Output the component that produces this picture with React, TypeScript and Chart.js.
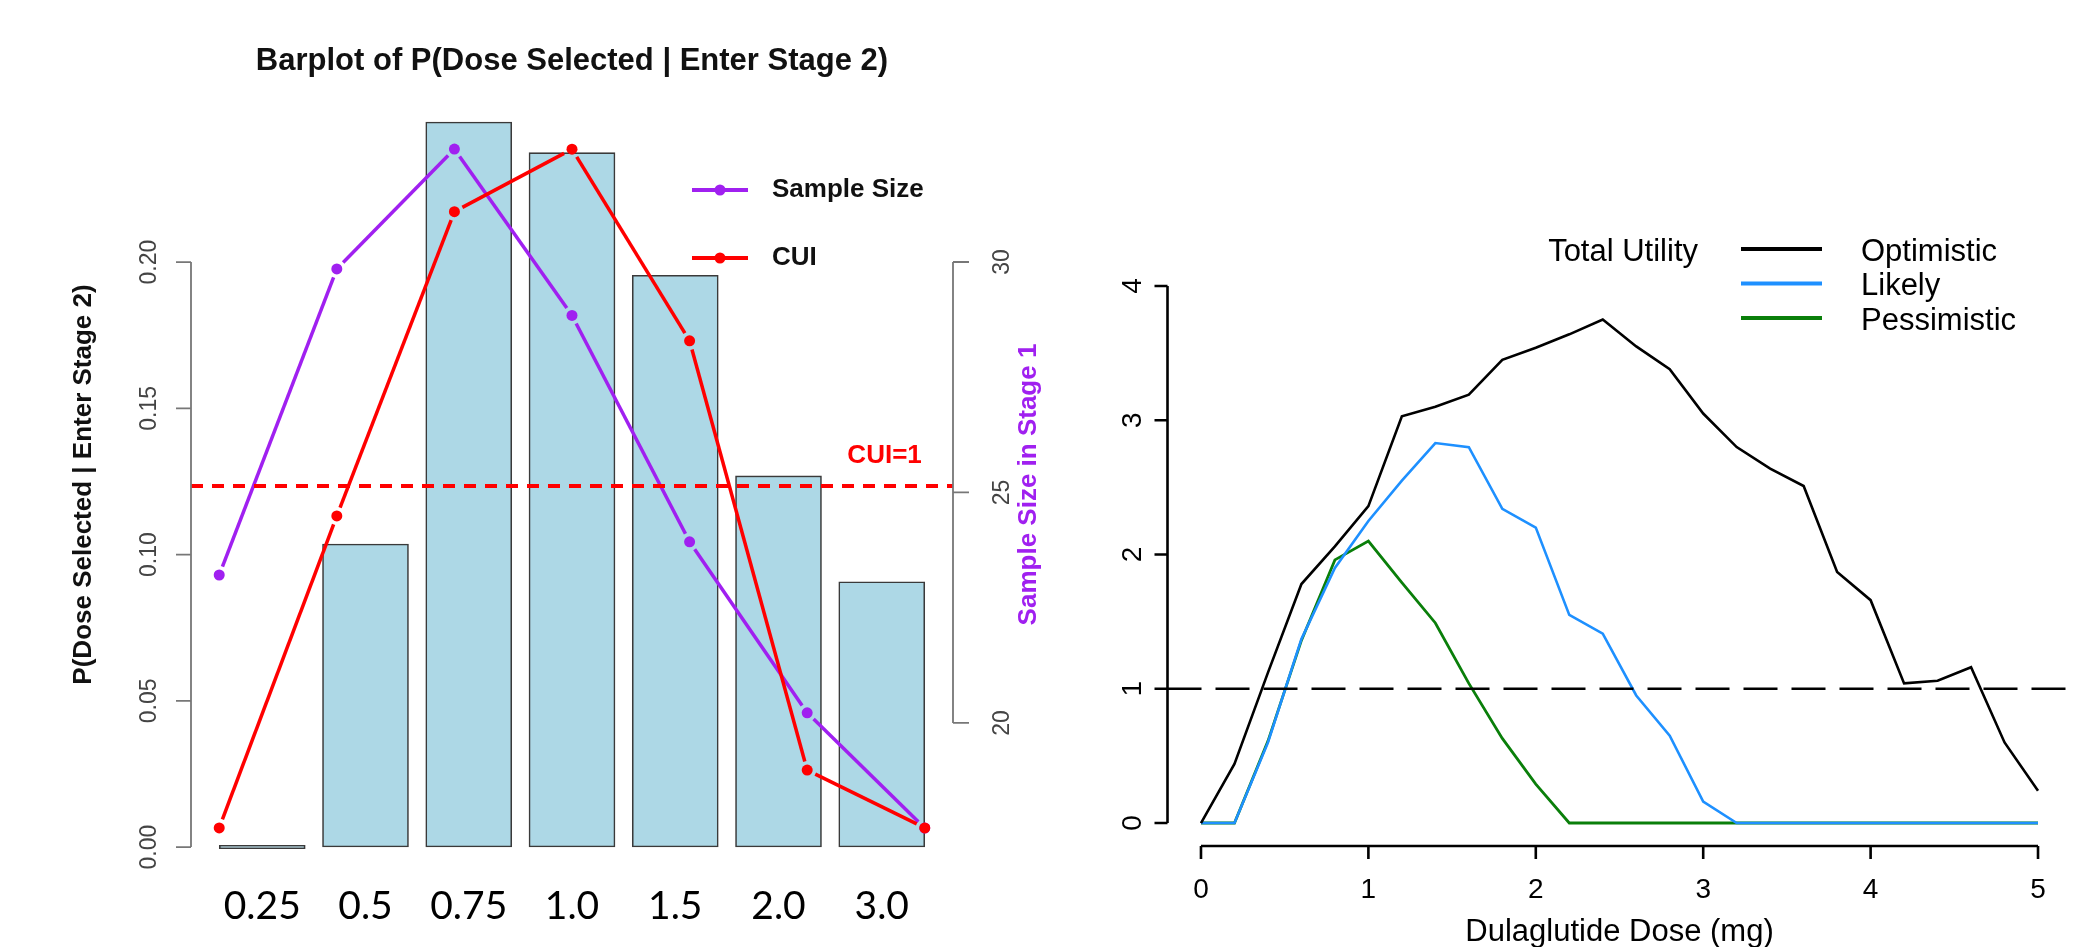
import React, { useEffect, useRef } from 'react';
import { Chart, registerables } from 'chart.js';

Chart.register(...registerables);

// ---------- Left chart data ----------
const doseLabels = ['0.25', '0.5', '0.75', '1.0', '1.5', '2.0', '3.0'];
const pSelected = [0, 0.1036, 0.2479, 0.2374, 0.1955, 0.1269, 0.0907];
const sampleSize = [23.21, 29.85, 32.45, 28.84, 23.93, 20.22, 17.72];
const cuiValues = [0.053, 0.917, 1.76, 1.933, 1.402, 0.213, 0.053];
const probTickValues = [0, 0.05, 0.1, 0.15, 0.2];
const probTickLabels = ['0.00', '0.05', '0.10', '0.15', '0.20'];
const sampleTickValues = [20, 25, 30];
const sampleTickLabels = ['20', '25', '30'];
const cuiThreshold = 1;

// ---------- Right chart data ----------
const utilDose = [0, 0.2, 0.4, 0.6, 0.8, 1.0, 1.2, 1.4, 1.6, 1.8, 2.0, 2.2, 2.4, 2.6, 2.8, 3.0, 3.2, 3.4, 3.6, 3.8, 4.0, 4.2, 4.4, 4.6, 4.8, 5.0];
const optimistic = [0, 0.44, 1.12, 1.78, 2.06, 2.36, 3.03, 3.1, 3.19, 3.45, 3.54, 3.64, 3.75, 3.55, 3.38, 3.05, 2.8, 2.64, 2.51, 1.87, 1.66, 1.04, 1.06, 1.16, 0.6, 0.24];
const likely = [0, 0, 0.6, 1.37, 1.9, 2.25, 2.55, 2.83, 2.8, 2.34, 2.2, 1.55, 1.41, 0.95, 0.65, 0.16, 0, 0, 0, 0, 0, 0, 0, 0, 0, 0];
const pessimistic = [0, 0, 0.61, 1.36, 1.96, 2.1, 1.79, 1.49, 1.04, 0.63, 0.29, 0, 0, 0, 0, 0, 0, 0, 0, 0, 0, 0, 0, 0, 0, 0];
const utilTicksY = [0, 1, 2, 3, 4];
const utilTicksX = [0, 1, 2, 3, 4, 5];
const utilThreshold = 1;

const PURPLE = '#A020F0';
const RED = '#FF0000';
const FONT = '"Liberation Sans", Arial, sans-serif';

function vText(ctx: CanvasRenderingContext2D, text: string, x: number, y: number, font: string, color: string) {
  ctx.save();
  ctx.translate(x, y);
  ctx.rotate(-Math.PI / 2);
  ctx.font = font;
  ctx.fillStyle = color;
  ctx.textAlign = 'center';
  ctx.textBaseline = 'middle';
  ctx.fillText(text, 0, 0);
  ctx.restore();
}

// R "type = b" style: segments between points with small gaps around each point
const gappedLines = {
  id: 'gappedLines',
  afterDatasetDraw(chart: any, args: any) {
    const ds = chart.data.datasets[args.index];
    if (!ds.gapLine) return;
    const pts = args.meta.data;
    const ctx = chart.ctx;
    const gap = 9;
    ctx.save();
    ctx.strokeStyle = ds.borderColor;
    ctx.lineWidth = ds.borderWidth;
    ctx.lineCap = 'butt';
    for (let i = 1; i < pts.length; i++) {
      const a = pts[i - 1];
      const b = pts[i];
      const dx = b.x - a.x;
      const dy = b.y - a.y;
      const len = Math.hypot(dx, dy);
      if (len <= 2 * gap) continue;
      const ux = dx / len;
      const uy = dy / len;
      ctx.beginPath();
      ctx.moveTo(a.x + ux * gap, a.y + uy * gap);
      ctx.lineTo(b.x - ux * gap, b.y - uy * gap);
      ctx.stroke();
    }
    ctx.restore();
  },
};

const leftDecor = {
  id: 'leftDecor',
  afterDatasetsDraw(chart: any) {
    const { ctx, chartArea } = chart;
    const { left, right, top, bottom } = chartArea;
    const xs = chart.scales.x;
    const x2 = chart.scales.x2;
    const ys = chart.scales.y;
    const yss = chart.scales.ySS;
    const yc = chart.scales.yCUI;
    ctx.save();

    // CUI = 1 reference line
    const yRef = yc.getPixelForValue(cuiThreshold);
    ctx.strokeStyle = RED;
    ctx.lineWidth = 4;
    ctx.setLineDash([12, 9]);
    ctx.beginPath();
    ctx.moveTo(left, yRef);
    ctx.lineTo(right, yRef);
    ctx.stroke();
    ctx.setLineDash([]);
    ctx.font = 'bold 26px ' + FONT;
    ctx.fillStyle = RED;
    ctx.textAlign = 'right';
    ctx.textBaseline = 'middle';
    ctx.fillText('CUI=1', x2.getPixelForValue(6) - 3, yRef - 30);

    // Title
    ctx.font = 'bold 31px ' + FONT;
    ctx.fillStyle = '#111';
    ctx.textAlign = 'center';
    ctx.fillText('Barplot of P(Dose Selected | Enter Stage 2)', (left + right) / 2, 61);

    // Left axis
    ctx.strokeStyle = '#777';
    ctx.lineWidth = 1.8;
    ctx.beginPath();
    ctx.moveTo(left, ys.getPixelForValue(probTickValues[0]));
    ctx.lineTo(left, ys.getPixelForValue(probTickValues[probTickValues.length - 1]));
    probTickValues.forEach((v) => {
      const p = ys.getPixelForValue(v);
      ctx.moveTo(left, p);
      ctx.lineTo(left - 15, p);
    });
    ctx.stroke();
    probTickValues.forEach((v, i) => {
      vText(ctx, probTickLabels[i], left - 41, ys.getPixelForValue(v), '23px ' + FONT, '#444');
    });
    vText(ctx, 'P(Dose Selected | Enter Stage 2)', left - 107, (top + bottom) / 2, 'bold 26px ' + FONT, '#111');

    // Right axis
    ctx.beginPath();
    ctx.moveTo(right, yss.getPixelForValue(sampleTickValues[0]));
    ctx.lineTo(right, yss.getPixelForValue(sampleTickValues[sampleTickValues.length - 1]));
    sampleTickValues.forEach((v) => {
      const p = yss.getPixelForValue(v);
      ctx.moveTo(right, p);
      ctx.lineTo(right + 16, p);
    });
    ctx.stroke();
    sampleTickValues.forEach((v, i) => {
      vText(ctx, sampleTickLabels[i], right + 50, yss.getPixelForValue(v), '23px ' + FONT, '#444');
    });
    vText(ctx, 'Sample Size in Stage 1', right + 76, (top + bottom) / 2, 'bold 26px ' + FONT, PURPLE);

    // Category labels
    ctx.font = '39px Lato, "Open Sans", sans-serif';
    ctx.fillStyle = '#000';
    ctx.textAlign = 'center';
    ctx.textBaseline = 'middle';
    doseLabels.forEach((lab, i) => {
      ctx.fillText(lab, xs.getPixelForValue(i), bottom + 30);
    });

    // Legend
    const items = chart.data.datasets.filter((d: any) => d.type === 'line');
    items.forEach((d: any, i: number) => {
      const yy = 190 + i * 68;
      ctx.strokeStyle = d.borderColor;
      ctx.lineWidth = 4;
      ctx.beginPath();
      ctx.moveTo(692, yy);
      ctx.lineTo(748, yy);
      ctx.stroke();
      ctx.fillStyle = d.borderColor;
      ctx.beginPath();
      ctx.arc(720, yy, 5.5, 0, Math.PI * 2);
      ctx.fill();
      ctx.font = 'bold 26px ' + FONT;
      ctx.fillStyle = '#111';
      ctx.textAlign = 'left';
      ctx.fillText(d.label, 772, yy);
    });
    ctx.restore();
  },
};

const rightDecor = {
  id: 'rightDecor',
  afterDatasetsDraw(chart: any) {
    const { ctx, chartArea } = chart;
    const { left, right, bottom } = chartArea;
    const xs = chart.scales.x;
    const ys = chart.scales.y;
    ctx.save();

    // reference line
    const yRef = ys.getPixelForValue(utilThreshold);
    ctx.strokeStyle = '#000';
    ctx.lineWidth = 2.6;
    ctx.setLineDash([34, 14]);
    ctx.beginPath();
    ctx.moveTo(left, yRef);
    ctx.lineTo(right, yRef);
    ctx.stroke();
    ctx.setLineDash([]);

    // y axis
    ctx.lineWidth = 2.6;
    ctx.beginPath();
    ctx.moveTo(left, ys.getPixelForValue(utilTicksY[0]));
    ctx.lineTo(left, ys.getPixelForValue(utilTicksY[utilTicksY.length - 1]));
    utilTicksY.forEach((v) => {
      const p = ys.getPixelForValue(v);
      ctx.moveTo(left, p);
      ctx.lineTo(left - 13, p);
    });
    ctx.stroke();
    utilTicksY.forEach((v) => {
      vText(ctx, String(v), left - 34, ys.getPixelForValue(v), '28px ' + FONT, '#000');
    });

    // x axis
    const ax = bottom + 1.5;
    ctx.beginPath();
    ctx.moveTo(xs.getPixelForValue(utilTicksX[0]), ax);
    ctx.lineTo(xs.getPixelForValue(utilTicksX[utilTicksX.length - 1]), ax);
    utilTicksX.forEach((v) => {
      const p = xs.getPixelForValue(v);
      ctx.moveTo(p, ax);
      ctx.lineTo(p, ax + 13);
    });
    ctx.stroke();
    ctx.font = '28px ' + FONT;
    ctx.fillStyle = '#000';
    ctx.textAlign = 'center';
    ctx.textBaseline = 'middle';
    utilTicksX.forEach((v) => {
      ctx.fillText(String(v), xs.getPixelForValue(v), ax + 44);
    });
    ctx.font = '31px ' + FONT;
    ctx.fillText('Dulaglutide Dose (mg)', (xs.getPixelForValue(0) + xs.getPixelForValue(5)) / 2, ax + 86);

    // legend
    ctx.font = '31px ' + FONT;
    ctx.textAlign = 'right';
    ctx.fillText('Total Utility', 648, 252);
    chart.data.datasets.forEach((d: any, i: number) => {
      const yy = 249 + i * 34.5;
      ctx.strokeStyle = d.borderColor;
      ctx.lineWidth = 4;
      ctx.beginPath();
      ctx.moveTo(691, yy);
      ctx.lineTo(772, yy);
      ctx.stroke();
      ctx.fillStyle = '#000';
      ctx.textAlign = 'left';
      ctx.fillText(d.label, 811, yy + 3);
    });
    ctx.restore();
  },
};

export default function App() {
  const leftRef = useRef<HTMLCanvasElement>(null);
  const rightRef = useRef<HTMLCanvasElement>(null);

  useEffect(() => {
    const left = new Chart(leftRef.current as HTMLCanvasElement, {
      type: 'bar',
      data: {
        datasets: [
          {
            type: 'line',
            label: 'Sample Size',
            data: sampleSize.map((v, i) => ({ x: i, y: v })),
            xAxisID: 'x2',
            yAxisID: 'ySS',
            borderColor: PURPLE,
            backgroundColor: PURPLE,
            borderWidth: 3.5,
            showLine: false,
            gapLine: true,
            pointRadius: 5.5,
            pointBorderWidth: 0,
            pointBackgroundColor: PURPLE,
            order: 2,
          } as any,
          {
            type: 'line',
            label: 'CUI',
            data: cuiValues.map((v, i) => ({ x: i, y: v })),
            xAxisID: 'x2',
            yAxisID: 'yCUI',
            borderColor: RED,
            backgroundColor: RED,
            borderWidth: 3.5,
            showLine: false,
            gapLine: true,
            pointRadius: 5.5,
            pointBorderWidth: 0,
            pointBackgroundColor: RED,
            order: 1,
          } as any,
          {
            type: 'bar',
            label: 'P(Dose Selected | Enter Stage 2)',
            data: pSelected.map((v, i) => ({ x: i, y: v })),
            xAxisID: 'x',
            yAxisID: 'y',
            backgroundColor: '#ADD8E6',
            borderColor: '#3a3a3a',
            borderWidth: 1.6,
            borderSkipped: false,
            barThickness: 86,
            grouped: false,
            minBarLength: 3.5,
            order: 3,
          } as any,
        ],
      },
      options: {
        responsive: false,
        animation: false,
        devicePixelRatio: 1,
        layout: { padding: { left: 191, right: 97, top: 93, bottom: 71 } },
        plugins: { legend: { display: false }, title: { display: false }, tooltip: { enabled: false } },
        scales: {
          x: { type: 'linear', min: -0.69, max: 6.69, offset: false, display: false },
          x2: { type: 'linear', min: -0.24, max: 6.24, offset: false, display: false },
          y: { type: 'linear', min: -0.0099, max: 0.2578, display: false },
          ySS: { type: 'linear', min: 16.68, max: 33.666, display: false },
          yCUI: { type: 'linear', min: -0.0803, max: 2.0886, display: false },
        },
      } as any,
      plugins: [gappedLines, leftDecor],
    });

    const right = new Chart(rightRef.current as HTMLCanvasElement, {
      type: 'line',
      data: {
        datasets: [
          { label: 'Optimistic', data: utilDose.map((d, i) => ({ x: d, y: optimistic[i] })), borderColor: '#000000', borderWidth: 2.6, pointRadius: 0 },
          { label: 'Likely', data: utilDose.map((d, i) => ({ x: d, y: likely[i] })), borderColor: '#1E90FF', borderWidth: 2.6, pointRadius: 0 },
          { label: 'Pessimistic', data: utilDose.map((d, i) => ({ x: d, y: pessimistic[i] })), borderColor: '#0A7F0A', borderWidth: 2.8, pointRadius: 0 },
        ],
      },
      options: {
        responsive: false,
        animation: false,
        devicePixelRatio: 1,
        layout: { padding: { left: 117.5, right: 13.5, top: 264.5, bottom: 102.5 } },
        plugins: { legend: { display: false }, title: { display: false }, tooltip: { enabled: false } },
        scales: {
          x: { type: 'linear', min: -0.2, max: 5.2, offset: false, display: false },
          y: { type: 'linear', min: -0.16, max: 4.16, display: false },
        },
      } as any,
      plugins: [rightDecor],
    });

    return () => {
      left.destroy();
      right.destroy();
    };
  }, []);

  return (
    <div style={{ position: 'absolute', left: 0, top: 0, width: 2085, height: 947, background: '#ffffff', overflow: 'hidden' }}>
      <canvas ref={leftRef} width={1050} height={947} style={{ position: 'absolute', left: 0, top: 0, width: 1050, height: 947 }} />
      <canvas ref={rightRef} width={1035} height={947} style={{ position: 'absolute', left: 1050, top: 0, width: 1035, height: 947 }} />
    </div>
  );
}
